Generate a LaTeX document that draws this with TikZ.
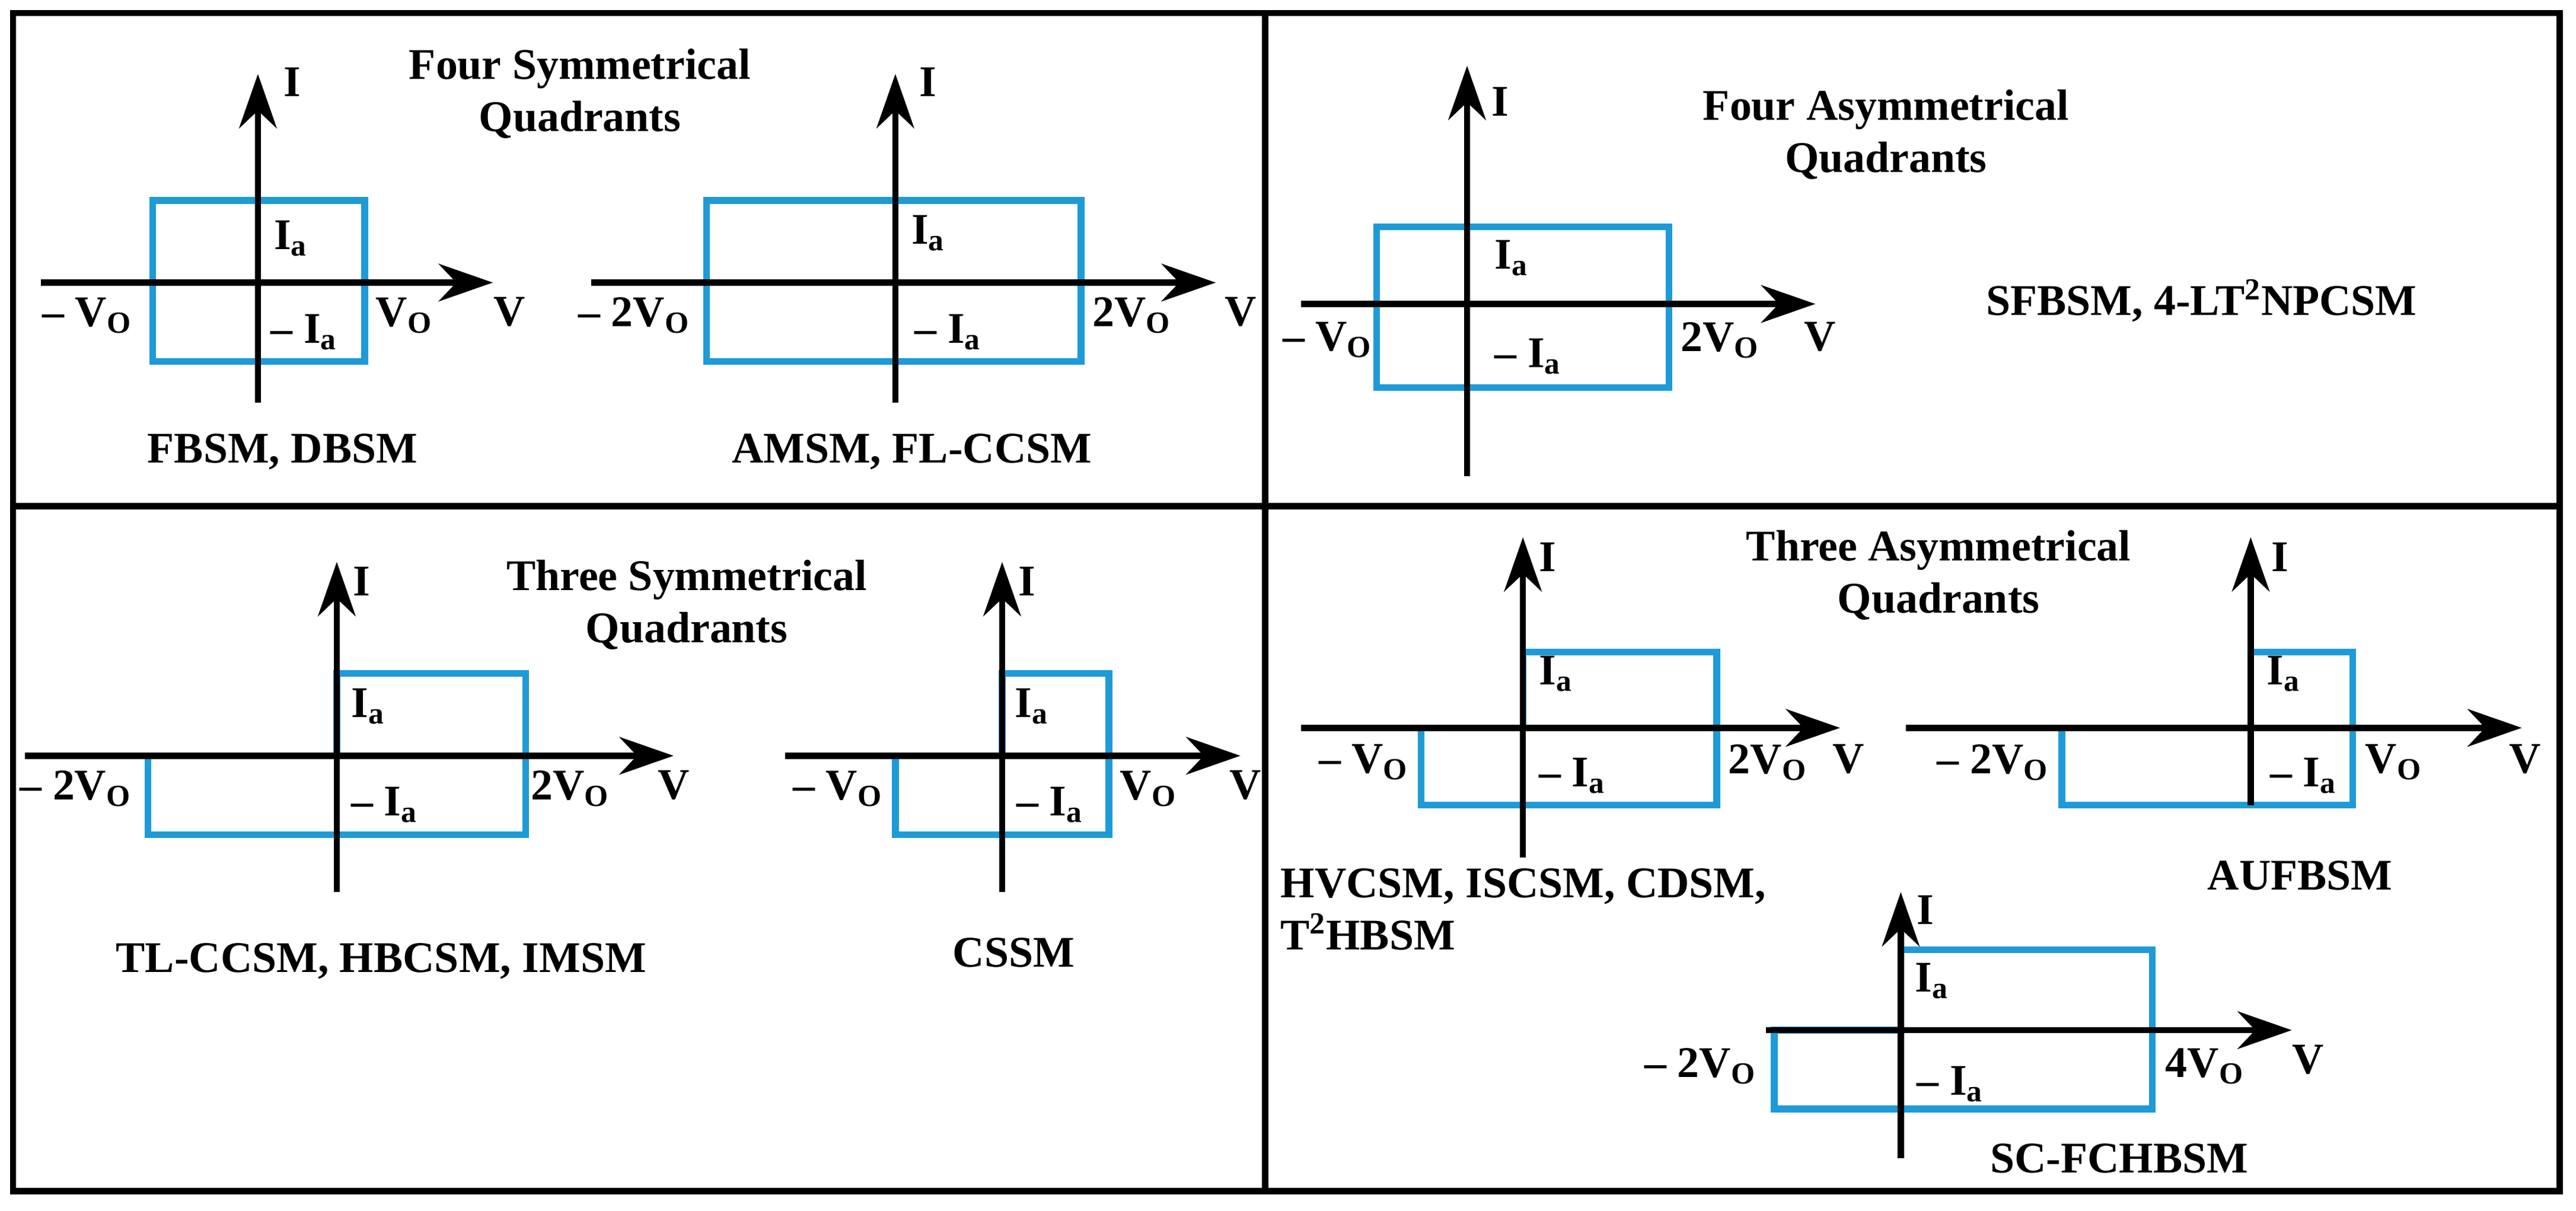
\documentclass[tikz,border=0pt]{standalone}
\usepackage{fontspec}
\setmainfont{Liberation Serif}
\usetikzlibrary{arrows.meta}
\definecolor{bl}{HTML}{1E9BD7}
\begin{document}
\begin{tikzpicture}[x=0.0277cm,y=-0.0277cm,
 ax/.style={line width=3pt,-{Stealth[length=26pt,width=18pt]}},
 bx/.style={line width=3.2pt,draw=bl},
 t/.style={font=\fontsize{21}{25}\selectfont\bfseries,inner sep=1pt},
 tt/.style={t,align=center}]
\useasboundingbox (0,0) rectangle (1568,737);
\draw[line width=3pt] (8,8) rectangle (1558,725);
\coordinate (d1) at (770,8); \coordinate (d2) at (770,725);
\coordinate (h1) at (8,308); \coordinate (h2) at (1558,308);
\draw[line width=3pt] (d1)--(d2) (h1)--(h2);
% panel 1a
\draw[bx] (93,122) rectangle (222,220);
\coordinate (a1) at (157,245); \coordinate (a2) at (157,45);
\coordinate (a3) at (25,172); \coordinate (a4) at (300,172);
\draw[ax] (a1)--(a2); \draw[ax] (a3)--(a4);
\node[t] (l1) at (178,50) {I};
\node[t] (l2) at (177,145) {I\textsubscript{a}};
\node[t] (l3) at (185,202) {– I\textsubscript{a}};
\node[t] (l4) at (53,192) {– V\textsubscript{O}};
\node[t] (l5) at (246,192) {V\textsubscript{O}};
\node[t] (l6) at (310,190) {V};
\node[tt] (l7) at (353,57) {Four Symmetrical\\Quadrants};
\node[t] (l8) at (172,275) {FBSM, DBSM};
% panel 1b
\draw[bx] (430,122) rectangle (658,220);
\coordinate (b1) at (545,245); \coordinate (b2) at (545,45);
\coordinate (b3) at (360,172); \coordinate (b4) at (740,172);
\draw[ax] (b1)--(b2); \draw[ax] (b3)--(b4);
\node[t] (m1) at (565,50) {I};
\node[t] (m2) at (565,142) {I\textsubscript{a}};
\node[t] (m3) at (577,202) {– I\textsubscript{a}};
\node[t] (m4) at (386,192) {– 2V\textsubscript{O}};
\node[t] (m5) at (689,192) {2V\textsubscript{O}};
\node[t] (m6) at (755,190) {V};
\node[t] (m8) at (555,275) {AMSM, FL-CCSM};
% panel 2
\draw[bx] (838,138) rectangle (1016,236);
\coordinate (c1) at (893,290); \coordinate (c2) at (893,40);
\coordinate (c3) at (792,185); \coordinate (c4) at (1105,185);
\draw[ax] (c1)--(c2); \draw[ax] (c3)--(c4);
\node[t] (n1) at (913,62) {I};
\node[t] (n2) at (920,157) {I\textsubscript{a}};
\node[t] (n3) at (930,217) {– I\textsubscript{a}};
\node[t] (n4) at (808,207) {– V\textsubscript{O}};
\node[t] (n5) at (1047,207) {2V\textsubscript{O}};
\node[t] (n6) at (1108,205) {V};
\node[tt] (n7) at (1148,82) {Four Asymmetrical\\Quadrants};
\node[t] (n8) at (1340,183) {SFBSM, 4-LT\textsuperscript{2}NPCSM};
% panel 3a
\draw[bx] (90,460)--(90,508)--(320,508)--(320,410)--(205,410)--(205,460)--cycle;
\coordinate (e1) at (205,543); \coordinate (e2) at (205,342);
\coordinate (e3) at (15,460); \coordinate (e4) at (410,460);
\draw[ax] (e1)--(e2); \draw[ax] (e3)--(e4);
\node[t] (p1) at (220,354) {I};
\node[t] (p2) at (224,430) {I\textsubscript{a}};
\node[t] (p3) at (234,490) {– I\textsubscript{a}};
\node[t] (p4) at (46,480) {– 2V\textsubscript{O}};
\node[t] (p5) at (347,480) {2V\textsubscript{O}};
\node[t] (p6) at (410,478) {V};
\node[tt] (p7) at (418,368) {Three Symmetrical\\Quadrants};
\node[t] (p8) at (232,585) {TL-CCSM, HBCSM, IMSM};
% panel 3b
\draw[bx] (545,460)--(545,508)--(675,508)--(675,410)--(610,410)--(610,460)--cycle;
\coordinate (f1) at (610,543); \coordinate (f2) at (610,342);
\coordinate (f3) at (478,460); \coordinate (f4) at (755,460);
\draw[ax] (f1)--(f2); \draw[ax] (f3)--(f4);
\node[t] (q1) at (625,354) {I};
\node[t] (q2) at (628,430) {I\textsubscript{a}};
\node[t] (q3) at (639,490) {– I\textsubscript{a}};
\node[t] (q4) at (510,480) {– V\textsubscript{O}};
\node[t] (q5) at (699,480) {V\textsubscript{O}};
\node[t] (q6) at (758,478) {V};
\node[t] (q8) at (617,580) {CSSM};
% panel 4a
\draw[bx] (865,443)--(865,490)--(1045,490)--(1045,397)--(927,397)--(927,443)--cycle;
\coordinate (g1) at (927,522); \coordinate (g2) at (927,327);
\coordinate (g3) at (792,443); \coordinate (g4) at (1120,443);
\draw[ax] (g1)--(g2); \draw[ax] (g3)--(g4);
\node[t] (r1) at (942,339) {I};
\node[t] (r2) at (947,410) {I\textsubscript{a}};
\node[t] (r3) at (957,472) {– I\textsubscript{a}};
\node[t] (r4) at (830,464) {– V\textsubscript{O}};
\node[t] (r5) at (1076,464) {2V\textsubscript{O}};
\node[t] (r6) at (1125,462) {V};
\node[tt] (r7) at (1180,350) {Three Asymmetrical\\Quadrants};
\node[t,align=left,anchor=north west] (r8) at (778,527) {HVCSM, ISCSM, CDSM,\\T\textsuperscript{2}HBSM};
% panel 4b
\draw[bx] (1255,443)--(1255,490)--(1432,490)--(1432,397)--(1370,397)--(1370,443)--cycle;
\coordinate (k1) at (1370,490); \coordinate (k2) at (1370,327);
\coordinate (k3) at (1160,443); \coordinate (k4) at (1535,443);
\draw[ax] (k1)--(k2); \draw[ax] (k3)--(k4);
\node[t] (s1) at (1388,339) {I};
\node[t] (s2) at (1390,410) {I\textsubscript{a}};
\node[t] (s3) at (1402,472) {– I\textsubscript{a}};
\node[t] (s4) at (1213,464) {– 2V\textsubscript{O}};
\node[t] (s5) at (1457,464) {V\textsubscript{O}};
\node[t] (s6) at (1537,462) {V};
\node[t] (s8) at (1400,533) {AUFBSM};
% panel 4c
\draw[bx] (1080,627)--(1080,675)--(1310,675)--(1310,578)--(1157,578)--(1157,627)--cycle;
\coordinate (u1) at (1157,705); \coordinate (u2) at (1157,543);
\coordinate (u3) at (1075,627); \coordinate (u4) at (1395,627);
\draw[ax] (u1)--(u2); \draw[ax] (u3)--(u4);
\node[t] (v1) at (1172,554) {I};
\node[t] (v2) at (1176,597) {I\textsubscript{a}};
\node[t] (v3) at (1187,660) {– I\textsubscript{a}};
\node[t] (v4) at (1035,649) {– 2V\textsubscript{O}};
\node[t] (v5) at (1342,649) {4V\textsubscript{O}};
\node[t] (v6) at (1405,645) {V};
\node[t] (v8) at (1290,705) {SC-FCHBSM};
\end{tikzpicture}
\end{document}
